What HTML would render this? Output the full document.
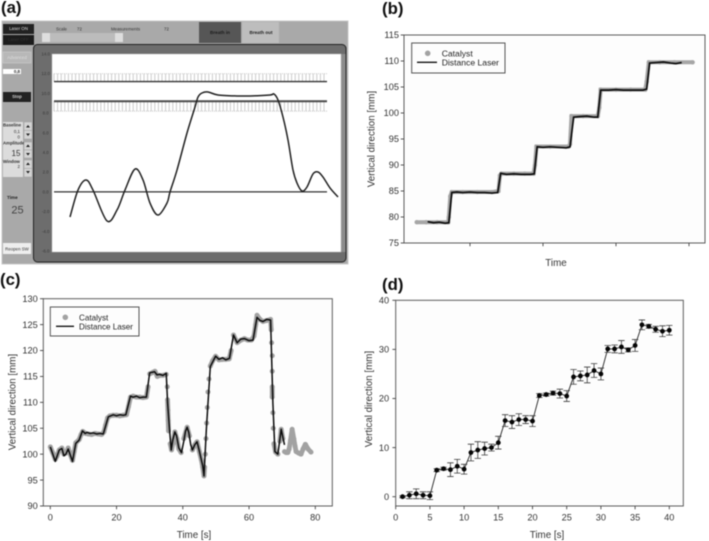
<!DOCTYPE html>
<html lang="en">
<head>
<meta charset="utf-8">
<title>Breath-hold tracking figure</title>
<style>
html,body{margin:0;padding:0;background:#fff;width:709px;height:541px;overflow:hidden}
svg{display:block;filter:blur(.45px)}
text{font-family:"Liberation Sans",Arial,sans-serif;fill:#333}
.t{font-size:9.2px}
.ttl{font-size:9.8px}
.leg{font-size:8.6px;fill:#222}
.pl{font-size:16.8px;font-weight:bold;fill:#111}
.ui{font-size:4.4px;fill:#333}
.uib{font-size:4.6px;font-weight:bold;fill:#222}
</style>
</head>
<body>
<svg id="fig" xmlns="http://www.w3.org/2000/svg" width="709" height="541" viewBox="0 0 709 541">
  <text class="pl" x="1" y="13">(a)</text>
  <text class="pl" x="382" y="14">(b)</text>
  <text class="pl" x="0" y="285">(c)</text>
  <text class="pl" x="382" y="290">(d)</text>

  <g>
    <rect x="2" y="21" width="346" height="243" fill="#a9a9a9" stroke="#c8c8c8" stroke-width="1"/>
    <rect x="3" y="24" width="31" height="10" fill="#222"/>
    <text class="ui" x="18.5" y="30" text-anchor="middle" style="fill:#ddd">Laser ON</text>
    <rect x="3" y="35" width="31" height="10" fill="#1c1c1c"/>
    <text class="ui" x="18.5" y="41" text-anchor="middle" style="fill:#333">Laser OFF</text>
    <text class="ui" x="56" y="30.5">Scale</text>
    <text class="ui" x="77" y="30.5">72</text>
    <text class="ui" x="111" y="30.5">Measurements</text>
    <text class="ui" x="164" y="30.5">72</text>
    <rect x="42" y="33" width="80" height="9" fill="#bcbcbc"/>
    <rect x="42" y="33" width="8" height="9" fill="#dedede"/>
    <rect x="115" y="33" width="8" height="9" fill="#dedede"/>
    <rect x="199" y="22" width="42" height="21" fill="#565656"/>
    <text class="uib" x="220" y="34" text-anchor="middle" style="fill:#1c1c1c">Breath in</text>
    <rect x="242" y="22" width="37" height="21" fill="#bdbdbd"/>
    <text class="uib" x="261" y="34" text-anchor="middle">Breath out</text>
    <rect x="3" y="52" width="28" height="11" fill="#b8b8b8" stroke="#ccc" stroke-width=".6"/>
    <text class="ui" x="17" y="59" text-anchor="middle" style="fill:#ddd">Advanced</text>
    <rect x="3" y="69" width="18" height="5" fill="#fff"/>
    <text class="ui" x="20" y="72.8" text-anchor="end" style="font-weight:bold">0,8</text>
    <rect x="3" y="92" width="28" height="10" fill="#222"/>
    <text class="ui" x="17" y="98" text-anchor="middle" style="fill:#ccc;font-weight:bold">Stop</text>
    <rect x="3" y="122" width="20" height="55" fill="#dcdcdc"/>
    <text class="ui" x="3" y="126.5" style="font-weight:bold">Baseline</text>
    <text class="ui" x="20" y="133" text-anchor="end">0,1</text>
    <text class="ui" x="20" y="138.5" text-anchor="end">0</text>
    <text class="ui" x="3" y="144.5" style="font-weight:bold">Amplitude</text>
    <text x="16" y="156" text-anchor="middle" style="font-size:8px">15</text>
    <text class="ui" x="3" y="163" style="font-weight:bold">Window</text>
    <text class="ui" x="20" y="168" text-anchor="end">2</text>
    <g fill="#d4d4d4" stroke="#999" stroke-width=".4">
      <rect x="24" y="122" width="8" height="8.5"/><rect x="24" y="130.5" width="8" height="8.5"/>
      <rect x="24" y="142" width="8" height="8"/><rect x="24" y="150" width="8" height="8"/>
      <rect x="24" y="160" width="8" height="8.5"/><rect x="24" y="168.5" width="8" height="8.5"/>
    </g>
    <g fill="#222">
      <path d="M26 127.5h4l-2-2.5z"/><path d="M26 133.5h4l-2 2.5z"/>
      <path d="M26 147h4l-2-2.5z"/><path d="M26 153h4l-2 2.5z"/>
      <path d="M26 165h4l-2-2.5z"/><path d="M26 171h4l-2 2.5z"/>
    </g>
    <text class="uib" x="7" y="199">Time</text>
    <text x="17.5" y="213.5" text-anchor="middle" style="font-size:11px;fill:#444">25</text>
    <rect x="3" y="243" width="28" height="11" fill="#eee"/>
    <text class="ui" x="17" y="250.3" text-anchor="middle">Reopen SW</text>
    <rect x="33.5" y="44.5" width="312.5" height="217.5" rx="4" fill="#6d6d6d" stroke="#222" stroke-width="1"/>
    <rect x="341" y="54" width="4.5" height="198" fill="#8c8c8c"/>
    <rect x="52" y="54" width="289" height="198" fill="#fff" stroke="#bbb" stroke-width=".5"/>
  </g>
  <g id="a"></g>
  <g id="b"></g>
  <g id="c"></g>
  <g id="d"></g>
</svg>
<script>
/* Panel (a) */
const aTicks = [14, 12, 10, 8, 6, 4, 2, 0, -2, -4, -6];
const aLevels = [11.2, 9.2, 0];
const aHatchBands = [[12, 11.2], [9.2, 8.2]];
const aTime = [0,8,16,23,37,47,55,65,73,80,88,97,100,107,117,125,128,132,138,148,167,180,200,204,208,213,218,223,227,232,237,243,248,253,260,268];
const aSignal = [-2.55,0.19,1.21,0.19,-2.95,-1.84,0.19,2.32,1.21,-1.13,-2.35,-1.13,-0.01,2.22,5.98,8.62,9.63,10.04,10.14,9.84,9.74,9.74,9.84,9.94,9.33,7.6,5.27,2.22,0.9,0.09,0.5,1.82,2.02,1.51,0.4,-0.52];

/* Panel (b) */
const bYTicks = [75, 80, 85, 90, 95, 100, 105, 110, 115];
const bXTicks = [10, 20, 30, 40];
const bCatalystTime = [2.7,4,5.5,7,7.1,7.3,7.5,9,11,13,13.9,14.1,14.3,16,17.5,18.7,18.9,19.1,21,23.5,23.7,23.9,25.5,27.5,27.7,27.9,30,32,34,34.2,34.5,36,38,40.5];
const bCatalystValue = [79,79,79,79,80,84,84.8,84.8,84.8,84.8,85,88,88.35,88.35,88.35,88.35,90,93.55,93.55,93.55,94,99.4,99.4,99.4,101,104.5,104.5,104.5,104.5,106,109.75,109.75,109.75,109.75];
const bLaserTime = [4.2,5,5.8,6.6,7.1,7.5,8.2,9,10,11,12,13,13.8,14.2,15,16,17,18.3,18.8,19.2,20,21,22,23.2,23.7,24.2,25,26,27,27.5,27.9,29,30,31,32,33.7,34.2,34.6,35.5,36.5,37.5,38.2,39];
const bLaserValue = [79.1,78.9,79,78.8,78.9,84.7,84.8,84.7,84.8,84.7,84.7,84.6,84.7,88.4,88.2,88.3,88.2,88.2,88.3,93.5,93.4,93.5,93.4,93.3,93.5,99.2,99.3,99.4,99.2,99.2,104.4,104.4,104.5,104.4,104.4,104.4,104.6,109.6,109.7,109.8,109.6,109.5,109.7];

/* Panel (c) */
const cYTicks = [90, 95, 100, 105, 110, 115, 120, 125, 130];
const cXTicks = [0, 20, 40, 60, 80];
const cCatalystTime = [0,0.7,1.5,2,2.7,3.5,4.1,4.7,5.4,6,6.7,7.2,7.7,8.7,9.3,9.8,10.6,11.5,12.5,13.5,14.5,15.5,16.2,16.7,17.3,18,19,20,21,22,23,23.6,24.2,25,26,27,28,29,29.5,30,31,31.6,32.3,33,34,35,35.3,35.4,35.5,35.6,35.7,36.2,36.6,37,37.6,38.2,38.8,39.5,40.3,41.3,42,42.9,43.6,44.3,45,45.6,46,46.4,46.6,46.8,47,47.2,47.4,47.6,47.9,48.3,49,49.9,50.9,52,53,54,54.6,55.3,56.4,57.5,58.6,59.6,60.7,61.5,62,62.4,63.3,64.2,65.3,66.5,66.7,66.8,67,67,67,67,67.2,67.3,67.5,68,68.7,69.3,69.7,70.2,70.7,71.2,71.7,72.1,72.5,73,73.5,73.9,74.2,75,75.7,76.3,77,77.8,78.7];
const cCatalystValue = [101.4,100.3,99,99.6,100.8,101.2,100,100.2,101.2,100,98.8,100.5,102.2,102.8,103.8,104.4,104,103.9,103.8,104,103.9,103.8,104.3,105.6,107,107.4,107.5,107.5,107.4,107.5,107.6,109.2,111,111.2,111,111,110.9,111,113,115.5,115.8,116,115,115.2,115.2,115.4,113,110.5,108.5,106.5,104.5,102,100.8,102,104.3,103,101,100.3,103,105.2,103.5,100.8,101.8,102.4,100.5,98.9,97.5,95.8,97.5,100,103,106,109,112,114.5,117,118,118.9,118.2,118.3,118.3,118.4,120,123,121.5,122,122.3,122,122,122.8,125,126.8,126,125.6,125.8,126,124,121.5,119,116,113,111,108,105,102,100.4,100,102.5,104.8,103,100.5,100.3,100.3,101,102.6,104.8,103,101.5,100.5,100.2,100,101,101.9,101,100.4];
const cLaserTime = [0,1.5,2.7,3.5,4.1,4.7,5.4,6.7,7.7,8.7,9.7,10.5,11.1,12,13,14,15,16,17.5,19,20,21,22,22.8,24.2,25,26,27,28,29,30,31.5,32.2,33,34,35,35.4,36,36.5,37,37.6,38.1,38.8,39.6,40.3,40.8,41.3,41.8,42.4,42.9,43.6,44.3,45,45.6,46,46.4,47.1,48.3,49.9,50.9,52,53,54.1,55.3,56.4,57.5,58.6,60,61.2,62.4,63.3,64.2,65.3,66.5,67.2,67.8,68.7,69.7,70.7];
const cLaserValue = [101.4,98.6,100.8,101.1,99.7,100,101,98.6,102.1,102.7,104.5,104,104.2,104,104.1,103.9,104,103.9,107.2,107.6,107.4,107.6,107.5,107.6,111.2,111,111.2,110.9,111,111,115.7,115.9,115.3,115.4,115.2,115.6,110,104.7,100.8,102.8,104.3,103.6,101.2,100.3,102.5,104.4,105.2,104.2,101.8,100.8,101.8,102.4,100.6,98.9,97.8,95.8,104.7,116.9,118.9,118.3,118.6,118.2,118.5,123,121.5,122.2,122.3,121.9,122,126.4,125.8,125.6,126,125.9,109.8,100.5,100,104.8,101.8];

/* Panel (d) */
const dYTicks = [0, 10, 20, 30, 40];
const dXTicks = [0, 5, 10, 15, 20, 25, 30, 35, 40];
const dTime = [1,2,3,4,5,6,7,8,9,10,11,12,13,14,15,16,17,18,19,20,21,22,23,24,25,26,27,28,29,30,31,32,33,34,35,36,37,38,39,40];
const dMean = [0,0.3,0.6,0.3,0.2,5.4,5.7,5.5,6.2,5.6,9,9.5,9.8,10,11,15.5,15.2,15.7,15.7,15.4,20.6,20.8,21.1,21,20.5,24.4,24.6,24.8,25.7,25,30.1,30.1,30.5,29.9,30.8,35,34.7,34.1,33.7,33.9];
const dError = [0.2,0.7,1,0.7,0.8,0.3,0.3,1.4,1.4,1,1.7,1.7,1.3,0.7,1.3,1.2,1.3,1.2,0.8,1.1,0.4,0.3,0.4,0.9,1.1,1.5,1,1.6,1.4,1.2,0.7,0.8,1.3,0.4,1.2,1,0.4,0.6,1.1,1];

const NS = 'http://www.w3.org/2000/svg';
function el(parent, tag, attrs, txt) {
  const n = document.createElementNS(NS, tag);
  for (const k in attrs) n.setAttribute(k, attrs[k]);
  if (txt !== undefined) n.textContent = txt;
  parent.appendChild(n);
  return n;
}
function linear(d0, d1, r0, r1) {
  return v => r0 + (v - d0) * (r1 - r0) / (d1 - d0);
}
function pts(xs, ys, X, Y) {
  return xs.map((t, i) => X(t).toFixed(2) + ',' + Y(ys[i]).toFixed(2)).join(' ');
}
function smoothPath(xs, ys, X, Y) {
  const p = xs.map((t, i) => [X(t), Y(ys[i])]);
  let d = 'M' + p[0][0].toFixed(2) + ' ' + p[0][1].toFixed(2);
  for (let i = 0; i < p.length - 1; i++) {
    const a = p[Math.max(0, i - 1)], b = p[i], c = p[i + 1], e = p[Math.min(p.length - 1, i + 2)];
    const c1x = b[0] + (c[0] - a[0]) / 6, c1y = b[1] + (c[1] - a[1]) / 6;
    const c2x = c[0] - (e[0] - b[0]) / 6, c2y = c[1] - (e[1] - b[1]) / 6;
    d += 'C' + c1x.toFixed(2) + ' ' + c1y.toFixed(2) + ' ' + c2x.toFixed(2) + ' ' + c2y.toFixed(2) + ' ' + c[0].toFixed(2) + ' ' + c[1].toFixed(2);
  }
  return d;
}

function axes(g, box, X, Y, xTicks, yTicks, opts) {
  const frame = el(g, 'rect', {x: box.l, y: box.t, width: box.r - box.l, height: box.b - box.t, fill: '#fdfdfd', stroke: '#5c5c5c', 'stroke-width': 1});
  
  
  yTicks.forEach(v => {
    const tick = el(g, 'line', {x1: box.l - 3.3, x2: box.l, y1: Y(v), y2: Y(v), stroke: '#444', 'stroke-width': .9});
    
    
    const lab = el(g, 'text', {class: 't', x: box.l - opts.yGap, y: Y(v) + 3.2, 'text-anchor': 'end'}, v);
    
    
  });
  xTicks.forEach(v => {
    const tick = el(g, 'line', {x1: X(v), x2: X(v), y1: box.b, y2: box.b + 3.3, stroke: '#444', 'stroke-width': .9});
    
    
    if (opts.xLabels) {
      const lab = el(g, 'text', {class: 't', x: X(v), y: opts.xLabelY, 'text-anchor': 'middle'}, v);
      
      
    }
  });
  const xt = el(g, 'text', {class: 'ttl', x: opts.xTitleX, y: opts.xTitleY, 'text-anchor': 'middle'}, opts.xTitle);
  
  
  const yt = el(g, 'text', {class: 'ttl', 'text-anchor': 'middle', transform: 'translate(' + opts.yTitleX + ',' + opts.yTitleY + ') rotate(-90)'}, 'Vertical direction [mm]');
  
  
}

function legend(g, L) {
  const box = el(g, 'rect', {x: L.x, y: L.y, width: L.w, height: L.h, fill: '#fdfdfd', stroke: '#555', 'stroke-width': 1});
  
  
  const dot = el(g, 'circle', {cx: L.dotX, cy: L.y1, r: 2.8, fill: '#a2a2a2'});
  
  
  const ln = el(g, 'line', {x1: L.lx1, x2: L.lx2, y1: L.y2, y2: L.y2, stroke: '#111', 'stroke-width': 1.3});
  
  
  const t1 = el(g, 'text', {class: 'leg', x: L.tx, y: L.y1 + 3.1, style: 'font-size:' + L.fs + 'px'}, 'Catalyst');
  
  
  const t2 = el(g, 'text', {class: 'leg', x: L.tx, y: L.y2 + 3.1, style: 'font-size:' + L.fs + 'px'}, 'Distance Laser');
  
  
}

/* ---- (a) ---- */
(function () {
  const g = document.getElementById('a');
  const Y = linear(14, -6, 54, 251);
  const X = linear(0, 268, 70, 338);
  const lx0 = 54, lx1 = 327;
  aTicks.forEach(v => {
    const t = el(g, 'text', {class: 'ui', x: 45.7, y: Y(v) + 1.5, 'text-anchor': 'middle', style: 'fill:#3a3a3a'}, v.toFixed(1));
    
    
  });
  aHatchBands.forEach((b, bi) => {
    const hg = el(g, 'g', {stroke: '#c6c6c6', 'stroke-width': .9});
    
    
    const y0 = Y(b[0]), y1 = Y(b[1]);
    for (let x = lx0; x <= lx1; x += 3.6) el(hg, 'line', {x1: x, x2: x, y1: y0, y2: y1});
    const edge = bi === 0 ? y0 : y1;
    el(hg, 'line', {x1: lx0, x2: lx1, y1: edge, y2: edge, 'stroke-dasharray': '1 1'});
  });
  aLevels.forEach((v, i) => {
    const l = el(g, 'line', {x1: lx0, x2: lx1, y1: Y(v), y2: Y(v), stroke: i === 1 ? '#4a4a4a' : '#333', 'stroke-width': i === 1 ? 2 : 1.3});
    
    
  });
  const curve = el(g, 'path', {d: smoothPath(aTime, aSignal, X, Y), fill: 'none', stroke: '#222', 'stroke-width': 1.5, 'stroke-linejoin': 'round'});
  
  
})();

/* ---- (b) ---- */
(function () {
  const g = document.getElementById('b');
  const box = {l: 404, r: 705, t: 35, b: 243};
  const X = linear(0, 10, 397, 470);
  const Y = linear(75, 115, 243, 35);
  axes(g, box, X, Y, bXTicks, bYTicks, {yGap: 5, xLabels: false, xTitle: 'Time', xTitleX: 556, xTitleY: 266, yTitleX: 374.5, yTitleY: 139});
  const trace = el(g, 'polyline', {points: pts(bCatalystTime, bCatalystValue, X, Y), fill: 'none', stroke: '#a6a6a6', 'stroke-width': 4});
  
  
  bCatalystTime.forEach((t, i) => {
    const c = el(g, 'circle', {cx: X(t), cy: Y(bCatalystValue[i]), r: 2.2, fill: '#a6a6a6'});
    
    
  });
  const laser = el(g, 'polyline', {points: pts(bLaserTime, bLaserValue, X, Y), fill: 'none', stroke: '#0c0c0c', 'stroke-width': 1.7});
  
  
  legend(g, {x: 411.7, y: 43, w: 93.3, h: 30, dotX: 427.7, y1: 53.3, y2: 62.3, lx1: 417, lx2: 437, tx: 441.7, fs: 8.6});
})();

/* ---- (c) ---- */
(function () {
  const g = document.getElementById('c');
  const box = {l: 43.3, r: 332.3, t: 298.7, b: 506};
  const X = linear(0, 80, 50.3, 315.3);
  const Y = linear(90, 130, 506, 298.7);
  axes(g, box, X, Y, cXTicks, cYTicks, {yGap: 5.6, xLabels: true, xLabelY: 520.7, xTitle: 'Time [s]', xTitleX: 194, xTitleY: 538, yTitleX: 15.5, yTitleY: 402});
  cCatalystTime.forEach((t, i) => {
    if (i > 0 && Math.abs(cCatalystValue[i] - cCatalystValue[i - 1]) < 2.3) {
      const seg = el(g, 'line', {x1: X(cCatalystTime[i - 1]), y1: Y(cCatalystValue[i - 1]), x2: X(t), y2: Y(cCatalystValue[i]), stroke: '#a2a2a2', 'stroke-width': 4.8});
      
      
    }
    const c = el(g, 'circle', {cx: X(t), cy: Y(cCatalystValue[i]), r: 2.5, fill: '#a2a2a2'});
    
    
  });
  const laser = el(g, 'polyline', {points: pts(cLaserTime, cLaserValue, X, Y), fill: 'none', stroke: '#0c0c0c', 'stroke-width': 1.5, 'stroke-linejoin': 'round'});
  
  
  legend(g, {x: 50.3, y: 307, w: 88.7, h: 29, dotX: 65.3, y1: 317.3, y2: 326.3, lx1: 56, lx2: 74, tx: 79, fs: 8.1});
})();

/* ---- (d) ---- */
(function () {
  const g = document.getElementById('d');
  const box = {l: 395.7, r: 683.3, t: 300.3, b: 506};
  const X = linear(0, 40, 395.7, 669.3);
  const Y = linear(0, 40, 496.7, 300.3);
  axes(g, box, X, Y, dXTicks, dYTicks, {yGap: 6.6, xLabels: true, xLabelY: 520.7, xTitle: 'Time [s]', xTitleX: 547, xTitleY: 538, yTitleX: 372, yTitleY: 399});
  const line = el(g, 'polyline', {points: pts(dTime, dMean, X, Y), fill: 'none', stroke: '#222', 'stroke-width': .9});
  
  
  dTime.forEach((t, i) => {
    const cx = X(t), up = Y(dMean[i] + dError[i]), dn = Y(dMean[i] - dError[i]);
    const eb = el(g, 'path', {d: 'M' + cx + ' ' + up + 'V' + dn + 'M' + (cx - 3.2) + ' ' + up + 'h6.4M' + (cx - 3.2) + ' ' + dn + 'h6.4', fill: 'none', stroke: '#3c3c3c', 'stroke-width': .8});
    
    
    const c = el(g, 'circle', {cx: cx, cy: Y(dMean[i]), r: 2.4, fill: '#050505'});
    
    
  });
})();
</script>
</body>
</html>
